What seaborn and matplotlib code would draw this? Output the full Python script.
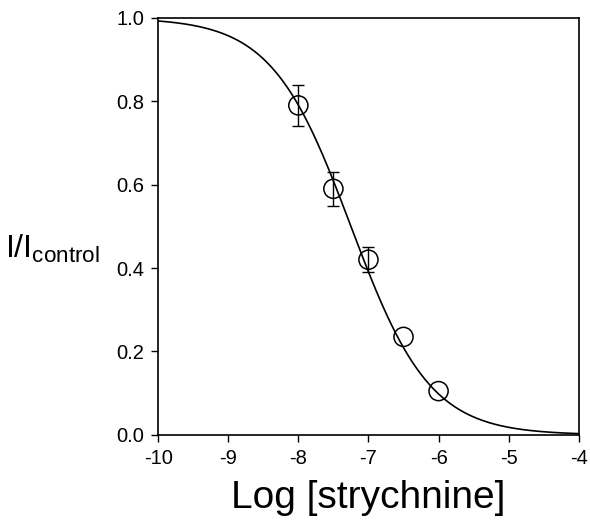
import numpy as np
import pandas as pd
import matplotlib
matplotlib.use("Agg")
import matplotlib.pyplot as plt
import seaborn as sns

# Data
log_conc = [-8.0, -7.5, -7.0, -6.5, -6.0]
response = [0.79, 0.59, 0.42, 0.235, 0.105]
sem = [0.05, 0.04, 0.03, 0.0, 0.0]

# Fitted Hill curve parameters (estimated)
log_ic50 = -7.25
hill_n = 0.77

x_ticks = [-10, -9, -8, -7, -6, -5, -4]
y_ticks = [0.0, 0.2, 0.4, 0.6, 0.8, 1.0]

sns.set_style("ticks")
plt.rcParams['font.family'] = ['Liberation Sans', 'DejaVu Sans']

fig = plt.figure(figsize=(5.9, 5.24), dpi=100)
ax = fig.add_axes([0.268, 0.170, 0.713, 0.796])

xf = np.linspace(-10, -4, 300)
yf = 1.0 / (1.0 + 10 ** ((xf - log_ic50) * hill_n))
fit = pd.DataFrame({"x": xf, "y": yf})
sns.lineplot(data=fit, x="x", y="y", ax=ax, color="black", linewidth=1.2)

eb = [(x, y, e) for x, y, e in zip(log_conc, response, sem) if e > 0]
ax.errorbar([p[0] for p in eb], [p[1] for p in eb], yerr=[p[2] for p in eb],
            fmt="none", ecolor="black", elinewidth=1.0, capsize=4,
            capthick=1.0, zorder=3)
pts = pd.DataFrame({"x": log_conc, "y": response})
sns.scatterplot(data=pts, x="x", y="y", ax=ax, marker="o", s=190,
                facecolor="none", edgecolor="black", linewidth=1.1, zorder=4)

ax.set_xlim(-10, -4)
ax.set_ylim(0, 1.0)
ax.set_xticks(x_ticks)
ax.set_xticklabels([str(t) for t in x_ticks])
ax.set_yticks(y_ticks)
ax.set_yticklabels([f"{t:.1f}" for t in y_ticks])
ax.tick_params(direction="out", length=5, width=1, labelsize=14.5,
               colors="black", pad=5)
for s in ax.spines.values():
    s.set_linewidth(1.2)
    s.set_color("black")

ax.set_xlabel("Log [strychnine]", fontsize=28, labelpad=9, color="black")
ax.set_ylabel("")
fig.text(0.008, 0.525, r"I/I$_{\mathregular{control}}$", fontsize=23,
         ha="left", va="center", color="black")

fig.savefig("out.png", dpi=100)
